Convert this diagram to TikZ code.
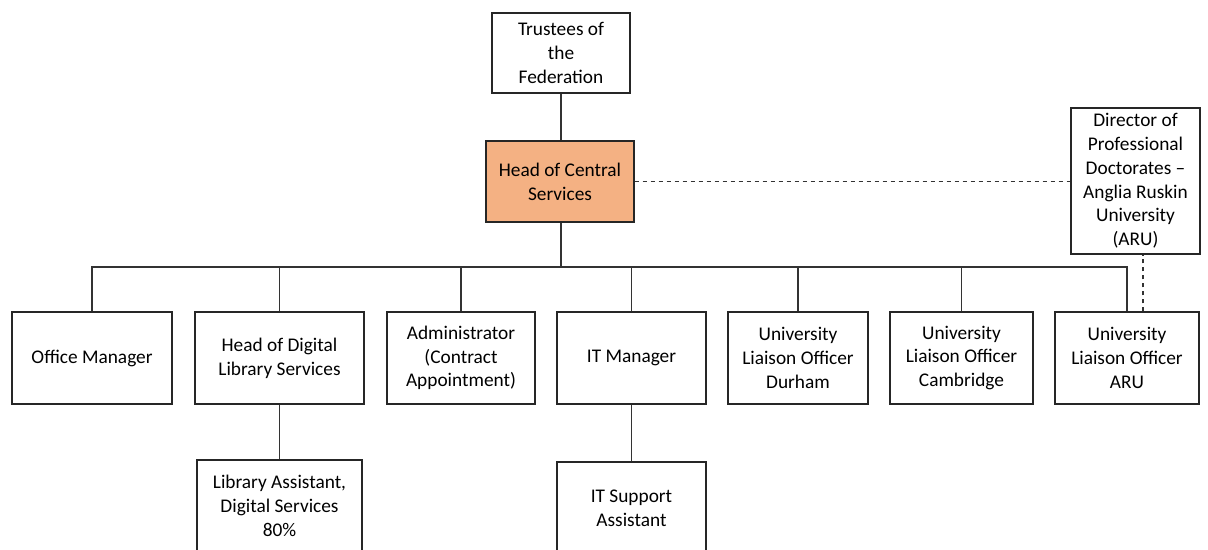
\documentclass[tikz,border=0pt]{standalone}
\usepackage{fontspec}
\setmainfont{Carlito}
\usepackage{tikz}
\definecolor{headfill}{RGB}{244,177,131}
\tikzset{
	box/.style 2 args={draw=black!85, line width=1pt, rectangle, align=center, inner sep=0pt,
		minimum width=#1*0.75pt, minimum height=#2*0.75pt,
		font=\fontsize{14.5}{17.8}\selectfont},
	link/.style={draw=black!80, line width=1pt},
}

\begin{document}
\begin{tikzpicture}[x=0.75pt, y=-0.75pt]
				\useasboundingbox (0,0) rectangle (1208,550);
				\clip (0,0) rectangle (1208,550);
				
				\node[box={138}{80}] (trustees) at (561,53) {Trustees of\\the\\Federation};
				\node[box={148}{81}, fill=headfill] (head) at (560,181.5) {Head of Central\\Services};
				\node[box={129}{146}] (director) at (1135.5,181) {Director of\\Professional\\Doctorates --\\Anglia Ruskin\\University\\(ARU)};
				
				\node[box={160}{92}] (office) at (92,358) {Office Manager};
				\node[box={169}{92}] (digital) at (279.5,358) {Head of Digital\\Library Services};
				\node[box={148}{92}] (admin) at (461,358) {Administrator\\(Contract\\Appointment)};
				\node[box={149}{92}] (itman) at (631.5,358) {IT Manager};
				\node[box={140}{92}] (durham) at (798,358) {University\\Liaison Officer\\Durham};
				\node[box={143}{92}] (cambridge) at (961.5,358) {University\\Liaison Officer\\Cambridge};
				\node[box={144}{92}] (aru) at (1127,358) {University\\Liaison Officer\\ARU};
				
				\node[box={165}{92}] (library) at (279.5,506) {Library Assistant,\\Digital Services\\80\%};
				\node[box={149}{92}] (itsupport) at (631.5,508) {IT Support\\Assistant};
				
				\coordinate (bus) at (561,267);
				
				\draw[link] (trustees) -- (trustees |- head.north);
				\draw[link, line width=1.6pt] (head.south -| bus) -- (bus);
				\foreach \n in {office,digital,admin,itman,durham,cambridge,aru}
					\draw[link] (\n.north) |- (bus);
				\draw[link] (digital) -- (library);
				\draw[link] (itman) -- (itsupport);
				
				\draw[link, dashed] (head.east) -- (head.east -| director.west);
				\draw[link, dashed] ([xshift=12pt]aru.north) -- ([xshift=12pt]aru.north |- director.south);
			\end{tikzpicture}
\end{document}
